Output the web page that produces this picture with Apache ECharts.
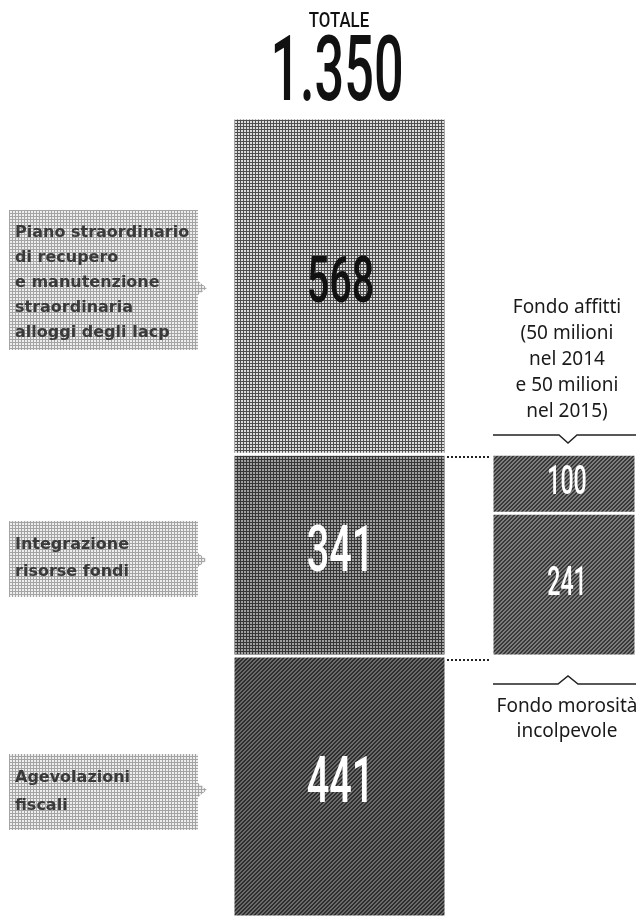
<!DOCTYPE html>
<html>
<head>
<meta charset="utf-8">
<script src="https://cdn.jsdelivr.net/npm/echarts@6/dist/echarts.min.js"></script>
<style>
  html, body { margin: 0; padding: 0; background: #fff; }
  #main { width: 636px; height: 917px; }
</style>
</head>
<body>
<div id="main"></div>
<script>
// dati
var categorie = ['Piano straordinario di recupero e manutenzione straordinaria alloggi degli Iacp', 'Integrazione risorse fondi', 'Agevolazioni fiscali'];
var valori = [568, 341, 441];
var etichetteValori = ['568', '341', '441'];
var fondi = ['Fondo affitti', 'Fondo morosità incolpevole'];
var valoriFondi = [100, 241];
var etichetteFondi = ['100', '241'];
var totaleTesto = '1.350';

var totale = valori.reduce(function (a, b) { return a + b; }, 0);

// retini (halftone) disegnati su piccoli canvas
function retino(size, fn) {
    var c = document.createElement('canvas');
    c.width = size; c.height = size;
    var ctx = c.getContext('2d');
    for (var y = 0; y < size; y++) {
        for (var x = 0; x < size; x++) {
            ctx.fillStyle = fn(x, y);
            ctx.fillRect(x, y, 1, 1);
        }
    }
    return { image: c, repeat: 'repeat' };
}
var retinoChiaro = retino(3, function (x, y) { return (x === 0 || y === 0) ? '#4e4e4e' : '#dcdcdc'; });
var retinoMedio = retino(3, function (x, y) { return (x === 0 || y === 0) ? '#363636' : '#a0a0a0'; });
var retinoScuro = retino(4, function (x, y) { return ((x + y) % 4 < 2) ? '#2e2e2e' : '#6a6a6a'; });
var retinoFondi = retino(4, function (x, y) { return ((x + y) % 4 < 2) ? '#383838' : '#7c7c7c'; });
var retinoBox = retino(3, function (x, y) { return (x === 0 || y === 0) ? '#a4a4a4' : '#eeeeee'; });
var coloriValori = [retinoChiaro, retinoMedio, retinoScuro];
var coloriTesto = ['#111', '#fff', '#fff'];

var myChart = echarts.init(document.getElementById('main'));

// punti medi dei segmenti (per le etichette)
function puntiMedi(arr, base) {
    var out = [], acc = base;
    arr.forEach(function (v) { out.push([0, acc + v / 2]); acc += v; });
    return out;
}

var series = [];
valori.forEach(function (v, i) {
    series.push({
        name: categorie[i], type: 'bar', stack: 'tot', xAxisIndex: 0, yAxisIndex: 0,
        barWidth: '100%', data: [v], silent: true,
        itemStyle: { color: coloriValori[i], borderColor: '#fff', borderWidth: 1.5 }
    });
});
// base invisibile per allineare i fondi al secondo segmento
series.push({
    type: 'bar', stack: 'fondi', xAxisIndex: 1, yAxisIndex: 1, barWidth: '100%',
    data: [valori[0]], silent: true, itemStyle: { color: 'transparent' }
});
valoriFondi.forEach(function (v, i) {
    series.push({
        name: fondi[i], type: 'bar', stack: 'fondi', xAxisIndex: 1, yAxisIndex: 1,
        barWidth: '100%', data: [v], silent: true,
        itemStyle: { color: retinoFondi, borderColor: '#fff', borderWidth: 1.5 }
    });
});

var fontNumeri = '"Roboto", "Liberation Sans", Arial, sans-serif';

function etichette(testi, colori, size, sx, dx) {
    return function (params, api) {
        var p = api.coord([api.value(0), api.value(1)]);
        return {
            type: 'text', x: p[0] + dx, y: p[1], scaleX: sx,
            style: {
                text: testi[params.dataIndex], fill: colori[params.dataIndex],
                font: '500 ' + size + 'px ' + fontNumeri,
                align: 'center', verticalAlign: 'middle',
                textAlign: 'center', textVerticalAlign: 'middle'
            }
        };
    };
}
series.push({
    type: 'custom', xAxisIndex: 0, yAxisIndex: 0, z: 10, silent: true,
    data: puntiMedi(valori, 0),
    renderItem: etichette(etichetteValori, coloriTesto, 64, 0.62, 1)
});
series.push({
    type: 'custom', xAxisIndex: 1, yAxisIndex: 1, z: 10, silent: true,
    data: puntiMedi(valoriFondi, valori[0]),
    renderItem: etichette(etichetteFondi, ['#fff', '#fff'], 40, 0.58, 3)
});

function testo(x, y, t, font, fill, align, lh, sx) {
    return {
        type: 'text', x: x, y: y, scaleX: sx || 1, silent: true,
        style: {
            text: t, font: font, fill: fill, lineHeight: lh,
            align: align, verticalAlign: 'top', textAlign: align, textVerticalAlign: 'top'
        }
    };
}
function box(y0, y1, ym) {
    return {
        type: 'polygon', silent: true,
        shape: { points: [[9, y0], [198, y0], [198, ym - 7], [207, ym], [198, ym + 7], [198, y1], [9, y1]] },
        style: { fill: retinoBox }
    };
}
var fontBox = 'bold 16px "DejaVu Sans", sans-serif';
var fontNote = '19px "Noto Sans", "Open Sans", sans-serif';

myChart.setOption({
    animation: false,
    grid: [
        { left: 233, top: 118, width: 213, height: 799 },
        { left: 492, top: 118, width: 144, height: 799 }
    ],
    xAxis: [
        { type: 'category', gridIndex: 0, data: ['totale'], show: false },
        { type: 'category', gridIndex: 1, data: ['fondi'], show: false }
    ],
    yAxis: [
        { type: 'value', gridIndex: 0, min: 0, max: totale, inverse: true, show: false },
        { type: 'value', gridIndex: 1, min: 0, max: totale, inverse: true, show: false }
    ],
    series: series,
    graphic: [
        testo(339, 11, 'TOTALE', '500 21px ' + fontNumeri, '#111', 'center', 22, 0.8),
        {
            type: 'text', x: 337, y: 77, scaleX: 0.58, silent: true,
            style: {
                text: totaleTesto, font: '500 90px ' + fontNumeri, fill: '#111',
                align: 'center', verticalAlign: 'middle', textAlign: 'center', textVerticalAlign: 'middle'
            }
        },
        box(210, 350, 288),
        testo(15, 220, 'Piano straordinario\ndi recupero\ne manutenzione\nstraordinaria\nalloggi degli Iacp', fontBox, '#3a3a3a', 'left', 25),
        box(521, 597, 560),
        testo(15, 531, 'Integrazione\nrisorse fondi', fontBox, '#3a3a3a', 'left', 27),
        box(754, 830, 790),
        testo(15, 764, 'Agevolazioni\nfiscali', fontBox, '#3a3a3a', 'left', 28),
        testo(567, 295, 'Fondo affitti\n(50 milioni\nnel 2014\ne 50 milioni\nnel 2015)', fontNote, '#1a1a1a', 'center', 26),
        {
            type: 'polyline', silent: true,
            shape: { points: [[493, 435], [559, 435], [568, 443], [577, 435], [636, 435]] },
            style: { stroke: '#222', lineWidth: 1.5, fill: null }
        },
        {
            type: 'line', silent: true, shape: { x1: 447, y1: 457, x2: 491, y2: 457 },
            style: { stroke: '#222', lineWidth: 2, lineDash: [2, 2] }
        },
        {
            type: 'line', silent: true, shape: { x1: 447, y1: 660, x2: 491, y2: 660 },
            style: { stroke: '#222', lineWidth: 2, lineDash: [2, 2] }
        },
        {
            type: 'polyline', silent: true,
            shape: { points: [[493, 684], [558, 684], [568, 676], [578, 684], [636, 684]] },
            style: { stroke: '#222', lineWidth: 1.5, fill: null }
        },
        testo(567, 694, 'Fondo morosità\nincolpevole', fontNote, '#1a1a1a', 'center', 25)
    ]
});
</script>
</body>
</html>
